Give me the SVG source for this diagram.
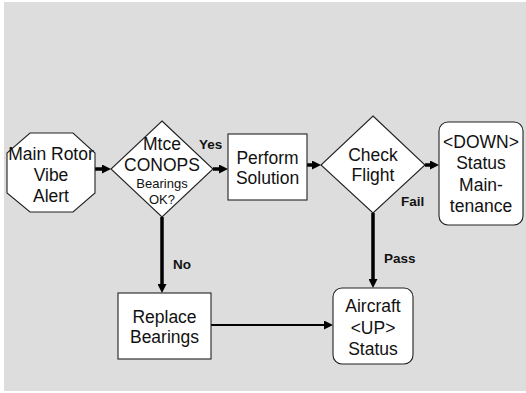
<svg xmlns="http://www.w3.org/2000/svg" width="526" height="393" viewBox="0 0 526 393">
<style>
.bg{fill:#dddddd}
.n{fill:#ffffff;stroke:#222222;stroke-width:1.1}
.t{font-family:"Liberation Sans",Arial,sans-serif;font-size:17.5px;fill:#111111;text-anchor:middle}
.s{font-size:13px}
.l{font-family:"Liberation Sans",Arial,sans-serif;font-size:13.5px;font-weight:bold;fill:#111111}
.c{stroke:#000000;stroke-width:3.5;fill:none}
.c2{stroke:#000000;stroke-width:2;fill:none}
</style>
<defs>
<marker id="ah" markerUnits="userSpaceOnUse" markerWidth="9" markerHeight="9" refX="0" refY="4.5" orient="auto">
<path d="M0,0 L9,4.5 L0,9 z" fill="#000000"/>
</marker>
</defs>
<rect class="bg" x="4" y="2" width="522" height="389"/>
<g id="connectors">
<line class="c" x1="95" y1="169" x2="102" y2="169" marker-end="url(#ah)"/>
<line class="c" x1="213" y1="169" x2="219" y2="169" marker-end="url(#ah)"/>
<line class="c" x1="307" y1="165" x2="312" y2="165" marker-end="url(#ah)"/>
<line class="c" x1="425" y1="165" x2="430" y2="165" marker-end="url(#ah)"/>
<line class="c" x1="162" y1="217" x2="162" y2="284" marker-end="url(#ah)"/>
<line class="c" x1="373" y1="213" x2="373" y2="279" marker-end="url(#ah)"/>
<line class="c2" x1="211" y1="325" x2="324" y2="325" marker-end="url(#ah)"/>
<text class="l" x="199" y="149">Yes</text>
<text class="l" x="173" y="269">No</text>
<text class="l" x="401" y="206">Fail</text>
<text class="l" x="384" y="263">Pass</text>
</g>
<g id="alert">
<polygon class="n" points="30,133 73,133 95,153 95,193 73,212 30,212 7,193 7,153"/>
<text class="t" x="51" y="160">Main Rotor</text>
<text class="t" x="51" y="181">Vibe</text>
<text class="t" x="51" y="202">Alert</text>
</g>
<g id="conops">
<polygon class="n" points="162,121 213,169 162,217 111,169"/>
<text class="t" x="162" y="150">Mtce</text>
<text class="t" x="162" y="171">CONOPS</text>
<text class="t s" x="162" y="188">Bearings</text>
<text class="t s" x="162" y="204">OK?</text>
</g>
<g id="perform">
<rect class="n" x="228" y="134" width="79" height="66"/>
<text class="t" x="267.5" y="164">Perform</text>
<text class="t" x="267.5" y="184">Solution</text>
</g>
<g id="check">
<polygon class="n" points="373,116 425,165 373,213 321,165"/>
<text class="t" x="373" y="161">Check</text>
<text class="t" x="373" y="181">Flight</text>
</g>
<g id="down">
<rect class="n" x="439" y="122" width="84" height="103" rx="9"/>
<text class="t" x="481" y="148">&lt;DOWN&gt;</text>
<text class="t" x="481" y="169">Status</text>
<text class="t" x="481" y="191">Main-</text>
<text class="t" x="481" y="212">tenance</text>
</g>
<g id="replace">
<rect class="n" x="118" y="293" width="93" height="66"/>
<text class="t" x="164.5" y="323">Replace</text>
<text class="t" x="164.5" y="343">Bearings</text>
</g>
<g id="aircraft">
<rect class="n" x="333" y="288" width="80" height="76" rx="9"/>
<text class="t" x="373" y="312">Aircraft</text>
<text class="t" x="373" y="334">&lt;UP&gt;</text>
<text class="t" x="373" y="355">Status</text>
</g>
</svg>
